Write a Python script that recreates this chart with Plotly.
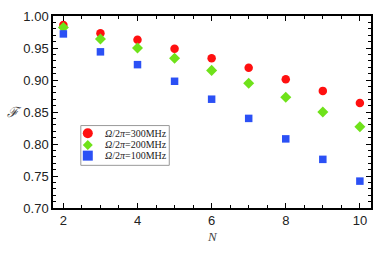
import plotly.graph_objects as go

N = [2, 3, 4, 5, 6, 7, 8, 9, 10]
f300 = [0.986, 0.973, 0.963, 0.949, 0.934, 0.919, 0.901, 0.883, 0.864]
f200 = [0.982, 0.964, 0.950, 0.934, 0.915, 0.895, 0.873, 0.850, 0.827]
f100 = [0.972, 0.944, 0.924, 0.898, 0.870, 0.840, 0.808, 0.776, 0.742]
names = ["<i>Ω</i>/2<i>π</i>=300MHz", "<i>Ω</i>/2<i>π</i>=200MHz", "<i>Ω</i>/2<i>π</i>=100MHz"]

RED = "#FF1010"
GREEN = "#6FE21A"
BLUE = "#2B50F5"

W, H = 382, 253
ML, MR, MT, MB = 53, 9, 10, 45
PW, PH = W - ML - MR, H - MT - MB


def px(xp):
    return (xp - ML) / PW


def py(yp):
    return (H - MB - yp) / PH


fig = go.Figure()
series = [(f300, RED, "circle", 8.5), (f200, GREEN, "diamond", 8.5), (f100, BLUE, "square", 7.5)]
for (vals, col, sym, sz), nm in zip(series, names):
    fig.add_trace(go.Scatter(x=N, y=vals, mode="markers", name=nm, showlegend=False,
                             marker=dict(color=col, symbol=sym, size=sz, line=dict(width=0))))

axis_common = dict(showline=True, linecolor="black", linewidth=1.5, mirror="allticks",
                   ticks="inside", ticklen=5, tickwidth=1, tickcolor="black",
                   showgrid=False, zeroline=False,
                   tickfont=dict(family="Liberation Sans, Arial", size=13, color="#222222"))

fig.update_xaxes(range=[1.72, 10.3], tickvals=[2, 4, 6, 8, 10],
                 minor=dict(dtick=0.5, tick0=0, ticks="inside", ticklen=3, tickcolor="black"),
                 **axis_common)
fig.update_yaxes(range=[0.70, 1.00], tickvals=[0.70, 0.75, 0.80, 0.85, 0.90, 0.95, 1.00],
                 tickformat=".2f",
                 minor=dict(dtick=0.01, tick0=0, ticks="inside", ticklen=3, tickcolor="black"),
                 **axis_common)

fig.add_annotation(text="<i>N</i>", xref="paper", yref="paper", x=0.5, y=py(237),
                   xanchor="center", yanchor="middle", showarrow=False,
                   font=dict(family="Liberation Serif, Times New Roman", size=13, color="#444444"))
fig.add_annotation(text="<i>ℱ</i>", xref="paper", yref="paper", x=px(14), y=0.5,
                   xanchor="center", yanchor="middle", showarrow=False,
                   font=dict(family="DejaVu Serif, Liberation Serif", size=14, color="#444444"))

# custom legend (compact rows like the reference)
fig.add_shape(type="rect", xref="paper", yref="paper", x0=px(81), x1=px(170), y0=py(164), y1=py(123),
              line=dict(color="#999999", width=1), fillcolor="white", layer="above")
rows = [131, 143, 154]
mx = px(88)
for (vals, col, sym, sz), nm, ry in zip(series, names, rows):
    y = py(ry)
    if sym == "circle":
        fig.add_shape(type="circle", xref="paper", yref="paper", xsizemode="pixel", ysizemode="pixel",
                      xanchor=mx, yanchor=y, x0=-5, x1=5, y0=-5, y1=5,
                      fillcolor=col, line=dict(width=0), layer="above")
    elif sym == "diamond":
        fig.add_shape(type="path", xref="paper", yref="paper", xsizemode="pixel", ysizemode="pixel",
                      xanchor=mx, yanchor=y, path="M -5 0 L 0 5 L 5 0 L 0 -5 Z",
                      fillcolor=col, line=dict(width=0), layer="above")
    else:
        fig.add_shape(type="rect", xref="paper", yref="paper", xsizemode="pixel", ysizemode="pixel",
                      xanchor=mx, yanchor=y, x0=-5, x1=5, y0=-5, y1=5,
                      fillcolor=col, line=dict(width=0), layer="above")
    fig.add_annotation(text=nm, xref="paper", yref="paper", x=px(103), y=y,
                       xanchor="left", yanchor="middle", showarrow=False,
                       font=dict(family="Liberation Serif, Times New Roman", size=10, color="#222222"))

fig.update_layout(
    width=W, height=H,
    margin=dict(l=ML, r=MR, t=MT, b=MB),
    plot_bgcolor="white", paper_bgcolor="white",
    showlegend=False,
)

fig.write_html("out.html", config={"displayModeBar": False},
               post_script="document.body.style.margin='0';")
